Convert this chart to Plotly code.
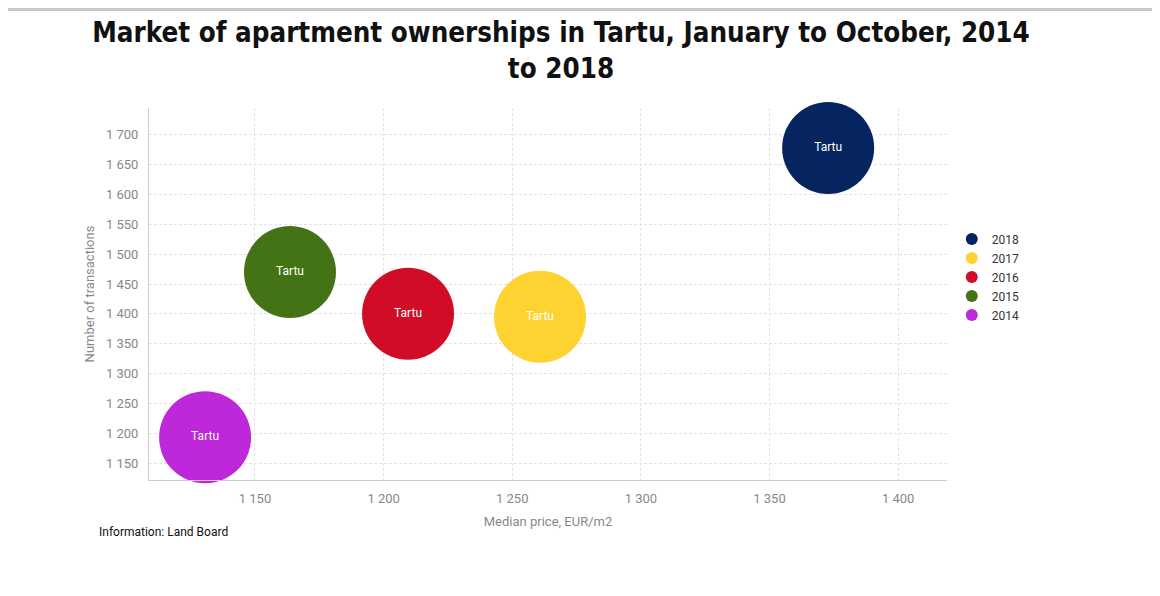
import plotly.graph_objects as go

years = ["2014", "2015", "2016", "2017", "2018"]
median_price = [1130.6, 1163.6, 1209.5, 1260.8, 1372.8]
transactions = [1193, 1470, 1400, 1395, 1678]
labels = ["Tartu", "Tartu", "Tartu", "Tartu", "Tartu"]
colors = ["#BE28DB", "#437314", "#D00C26", "#FDD231", "#062460"]

x_ticks = [1150, 1200, 1250, 1300, 1350, 1400]
y_ticks = [1150, 1200, 1250, 1300, 1350, 1400, 1450, 1500, 1550, 1600, 1650, 1700]

fig = go.Figure()
for i in range(len(years)):
    fig.add_trace(go.Scatter(
        x=[median_price[i]], y=[transactions[i]],
        mode="markers+text", name=years[i],
        text=[labels[i]], textposition="middle center",
        textfont=dict(color="white", size=12, family="Roboto"),
        marker=dict(size=92, color=colors[i], line=dict(width=0), opacity=1),
        cliponaxis=False,
    ))

fig.update_layout(
    width=1160, height=596,
    paper_bgcolor="white", plot_bgcolor="white",
    separators=", ",
    margin=dict(l=141, r=221, t=100, b=124, autoexpand=False),
    title=dict(
        text="<b>Market of apartment ownerships in Tartu, January to October, 2014<br>to 2018</b>",
        xref="container", yref="container",
        x=553 / 1160, xanchor="center", y=1 - 34 / 596, yanchor="middle",
        font=dict(family="Liberation Sans Narrow, DejaVu Sans Condensed, sans-serif", size=27.5, color="#111"),
        automargin=False,
    ),
    legend=dict(
        x=1.006, xanchor="left", y=0.546, yanchor="middle",
        traceorder="reversed", font=dict(size=12, color="#333", family="Roboto"),
        itemsizing="constant", itemwidth=30, tracegroupgap=0,
    ),
    showlegend=True,
    xaxis=dict(
        range=[1108.8, 1419], tickvals=x_ticks, tickformat=",d",
        showline=True, linecolor="#ccc", linewidth=1,
        showgrid=True, gridcolor="#e3e3e3", griddash="3px,2px", zeroline=False,
        tickfont=dict(size=13, color="#888", family="Roboto"),
        ticks="outside", ticklen=6, tickcolor="rgba(0,0,0,0)",
        automargin=False,
        title=dict(text="Median price, EUR/m2", font=dict(size=13, color="#888", family="Roboto"), standoff=12),
    ),
    yaxis=dict(
        range=[1121.5, 1745], tickvals=y_ticks, tickformat=",d",
        showline=True, linecolor="#ccc", linewidth=1,
        showgrid=True, gridcolor="#e3e3e3", griddash="3px,2px", zeroline=False,
        tickfont=dict(size=13, color="#888", family="Roboto"),
        ticks="outside", ticklen=7, tickcolor="rgba(0,0,0,0)",
        automargin=False,
        title=dict(text="Number of transactions", font=dict(size=13, color="#888", family="Roboto"), standoff=8),
    ),
    annotations=[dict(
        text="Information: Land Board", xref="paper", yref="paper",
        x=(89 - 141) / 798, y=(472 - 524) / 372, xanchor="left", yanchor="middle", showarrow=False,
        font=dict(size=12, color="#111", family="Roboto"),
    )],
)

fig.add_shape(type="rect", xref="paper", yref="paper", x0=-0.2, x1=1.3,
              y0=(472 - 3) / 372, y1=472 / 372, line=dict(width=0),
              fillcolor="#c8c8c8", layer="above")

fig.write_html("out.html")
